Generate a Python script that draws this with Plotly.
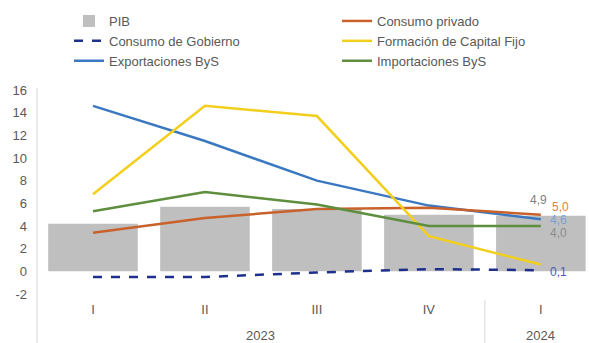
import plotly.graph_objects as go

quarters = ["I", "II", "III", "IV", "I"]
years = ["2023", "2023", "2023", "2023", "2024"]

pib = [4.2, 5.7, 5.5, 5.0, 4.9]
consumo_privado = [3.4, 4.7, 5.5, 5.6, 5.0]
consumo_gobierno = [-0.5, -0.5, -0.1, 0.2, 0.1]
fbkf = [6.8, 14.6, 13.7, 3.1, 0.6]
exportaciones = [14.6, 11.5, 8.0, 5.8, 4.6]
importaciones = [5.3, 7.0, 5.9, 4.0, 4.0]

end_labels = ["4,9", "5,0", "4,6", "4,0", "0,1"]
end_values = [4.9, 5.0, 4.6, 4.0, 0.1]

yticks = list(range(-2, 17, 2))

GRAY = "#BFBFBF"
ORANGE = "#C8622A"
NAVY = "#1F2F8C"
YELLOW = "#F2CF1D"
BLUE = "#3A78C2"
GREEN = "#5E8E3E"
TXT = "#595959"

x = list(range(len(quarters)))

fig = go.Figure()
fig.add_trace(go.Bar(x=x, y=pib, name="PIB", marker=dict(color=GRAY, line_width=0), width=0.8,
                     legend="legend"))
fig.add_trace(go.Scatter(x=x, y=consumo_gobierno, name="Consumo de Gobierno", mode="lines",
                         line=dict(color=NAVY, width=2.5, dash="dash"), legend="legend"))
fig.add_trace(go.Scatter(x=x, y=exportaciones, name="Exportaciones ByS", mode="lines",
                         line=dict(color=BLUE, width=2.5), legend="legend"))
fig.add_trace(go.Scatter(x=x, y=consumo_privado, name="Consumo privado", mode="lines",
                         line=dict(color=ORANGE, width=2.5), legend="legend2"))
fig.add_trace(go.Scatter(x=x, y=fbkf, name="Formación de Capital Fijo", mode="lines",
                         line=dict(color=YELLOW, width=2.5), legend="legend2"))
fig.add_trace(go.Scatter(x=x, y=importaciones, name="Importaciones ByS", mode="lines",
                         line=dict(color=GREEN, width=2.5), legend="legend2"))

# end-of-series data labels
label_colors = ["#7F7F7F", "#E0823F", "#7C9FD6", "#8C8C8C", "#4A5BB0"]
label_shifts = [(-2, 16), (20, 8), (18, -1), (18, -7), (18, -2)]
last = x[-1]
for t, v, c, (dx, dy) in zip(end_labels, end_values, label_colors, label_shifts):
    fig.add_annotation(x=last, y=v, text=t, showarrow=False, xshift=dx, yshift=dy,
                       font=dict(size=12, color=c), xanchor="center", yanchor="middle")

# year labels and dividers
groups = []
for i, yv in enumerate(years):
    if groups and groups[-1][0] == yv:
        groups[-1][2] = i
    else:
        groups.append([yv, i, i])
for yv, a, b in groups:
    fig.add_annotation(x=(a + b) / 2, y=0, yref="paper", yshift=-41, text=yv, showarrow=False,
                       font=dict(size=13, color=TXT), yanchor="middle")
for yv, a, b in groups[:-1]:
    fig.add_shape(type="line", xref="x", yref="paper", x0=b + 0.5, x1=b + 0.5, y0=-0.03, y1=-0.25,
                  line=dict(color="#D9D9D9", width=1))
fig.add_shape(type="line", xref="paper", yref="paper", x0=0, x1=0, y0=1.01, y1=-0.25,
              line=dict(color="#D9D9D9", width=1))

leg_common = dict(orientation="v", xref="container", yref="container", xanchor="left",
                  yanchor="top", traceorder="normal", font=dict(size=13, color=TXT),
                  itemwidth=30, bgcolor="rgba(0,0,0,0)")

fig.update_layout(
    width=589, height=343,
    margin=dict(l=37, r=0, t=90, b=49, autoexpand=False),
    plot_bgcolor="white", paper_bgcolor="white",
    font=dict(family="Liberation Sans, Arial, sans-serif", size=13, color=TXT),
    showlegend=True,
    legend=dict(x=69 / 589, y=1 - 6 / 343, **leg_common),
    legend2=dict(x=337 / 589, y=1 - 6 / 343, **leg_common),
    xaxis=dict(range=[-0.5, 4.43], tickmode="array", tickvals=x, ticktext=quarters,
               showgrid=False, zeroline=False, showline=False, ticks="", ticklabelstandoff=6,
               tickfont=dict(size=13, color=TXT)),
    yaxis=dict(range=[-2, 16], tickmode="array", tickvals=yticks, ticktext=[str(v) for v in yticks],
               showgrid=False, zeroline=False, showline=False, ticks="", ticklabelstandoff=9,
               tickfont=dict(size=13, color=TXT)),
    bargap=0.2,
)

fig.write_html("out.html", config={"displayModeBar": False},
               post_script="document.body.style.margin='0px';")
